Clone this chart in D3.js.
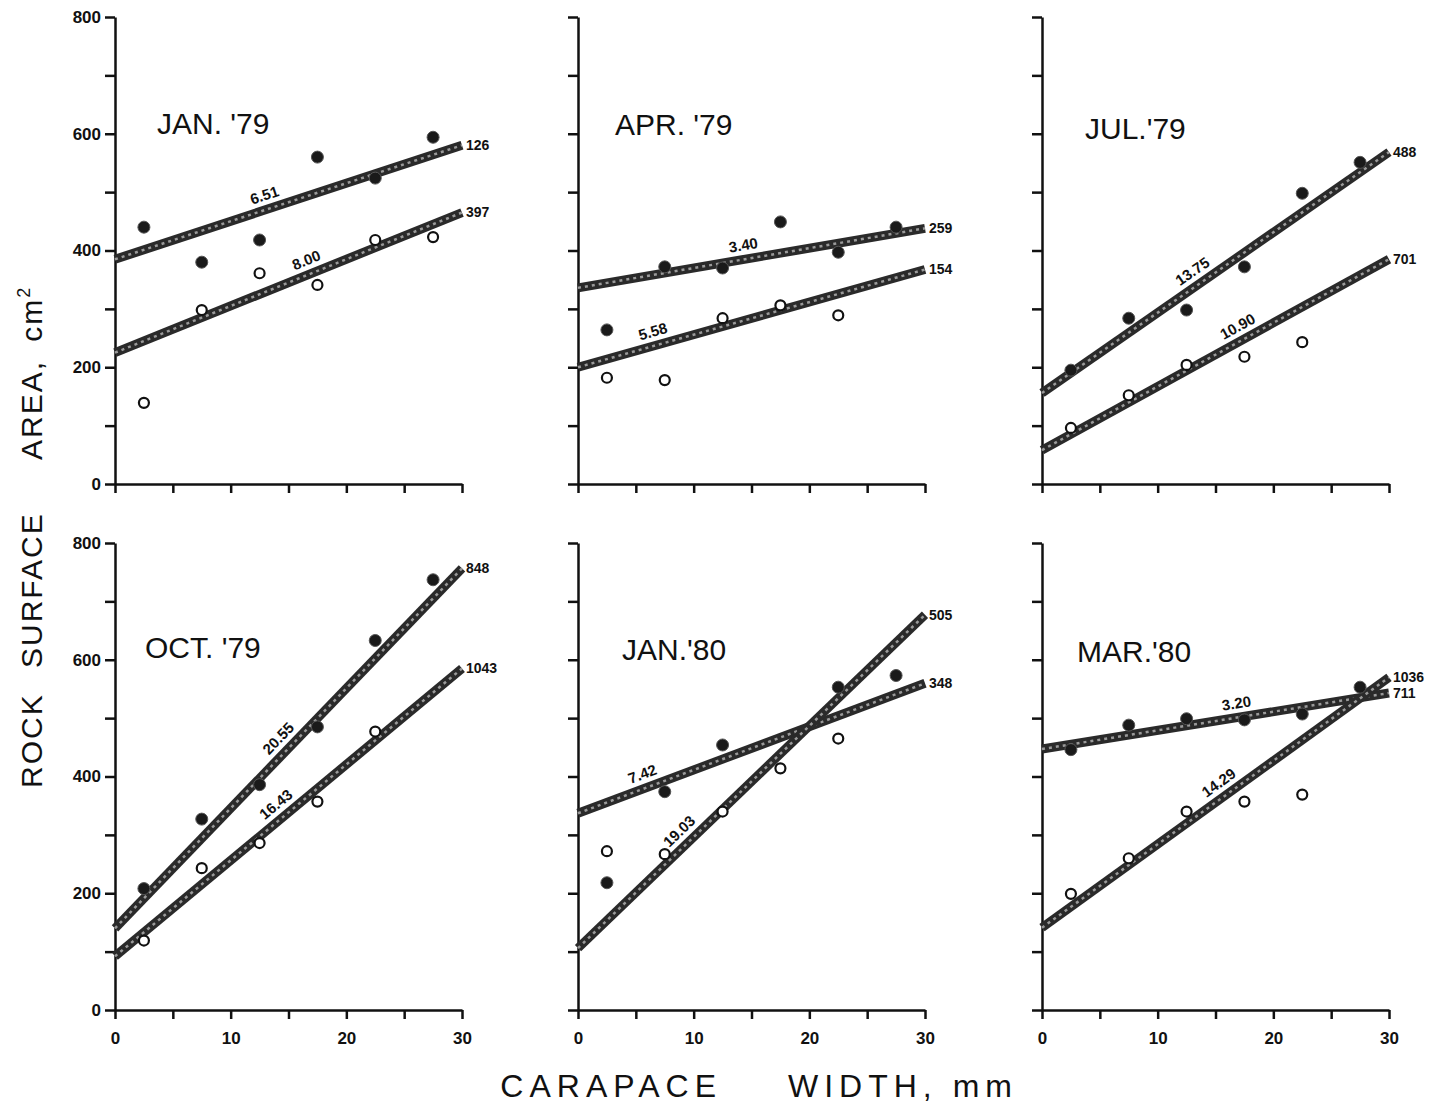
<!DOCTYPE html>
<html>
<head>
<meta charset="utf-8">
<script src="https://cdn.jsdelivr.net/npm/d3@7"></script>
<style>
body { margin: 0; background: #fff; }
text { font-family: "Liberation Sans", Arial, sans-serif; fill: #111; }
.axis path, .axis line { stroke: #111; stroke-width: 2.5; }
.axis text { font-weight: bold; }
</style>
</head>
<body>
<svg id="chart" width="1439" height="1109"></svg>
<script>
// panel titles
var months = ["JAN. '79", "APR. '79", "JUL.'79", "OCT. '79", "JAN.'80", "MAR.'80"];
// carapace width classes (mm)
var sizeClasses = [2.5, 7.5, 12.5, 17.5, 22.5, 27.5];
// rock surface area, cm2 (filled and open circles), one row per panel
var filledArea = [
    [440, 380, 418, 560, 524, 594],
    [264, 372, 370, 449, 397, 440],
    [195, 284, 298, 372, 498, 551],
    [208, 327, 386, 485, 633, 737],
    [218, 374, 454, null, 553, 573],
    [446, 488, 499, 497, 507, 553]
];
var openArea = [
    [139, 298, 361, 341, 418, 423],
    [182, 178, 284, 306, 289, null],
    [96, 152, 204, 218, 243, null],
    [119, 243, 286, 357, 477, null],
    [272, 267, 340, 414, 465, null],
    [199, 260, 340, 357, 369, null]
];
// regression lines
var filledIntercept = [385, 336, 156, 140, 337, 447];
var filledSlope = [6.51, 3.40, 13.75, 20.55, 7.42, 3.20];
var openIntercept = [225, 200, 58, 92, 106, 141];
var openSlope = [8.00, 5.58, 10.90, 16.43, 19.03, 14.29];
var filledN = [126, 259, 488, 848, 348, 711];
var openN = [397, 154, 701, 1043, 505, 1036];
var xTickValues = [0, 10, 20, 30];
var yTickValues = [0, 200, 400, 600, 800];

// layout
var colLeft = [115, 578, 1042];
var rowBottom = [484, 1010];
var panelW = 347, panelH = 467;
var titlePos = [[157, 134], [615, 135], [1085, 139], [145, 658], [622, 660], [1077, 662]];
var filledLabelX = [13.3, 14.5, 13.7, 15, 6, 17];
var openLabelX = [17, 6.8, 17.5, 14.7, 9.6, 16];

var svg = d3.select("#chart");

months.forEach(function(m, i) {
    var col = i % 3;
    var row = Math.floor(i / 3);
    var x = d3.scaleLinear().domain([0, 30]).range([colLeft[col], colLeft[col] + panelW]);
    var y = d3.scaleLinear().domain([0, 800]).range([rowBottom[row], rowBottom[row] - panelH]);
    var g = svg.append("g");

    //axes
    var yAxis = d3.axisLeft(y).tickValues(d3.range(0, 801, 100)).tickSize(10).tickSizeOuter(0).tickPadding(4)
        .tickFormat(function(d) { return (col == 0 && yTickValues.indexOf(d) >= 0) ? d : ""; });
    g.append("g").attr("class", "axis").attr("transform", "translate(" + x(0) + ",0)").call(yAxis);
    var xAxis = d3.axisBottom(x).tickValues(d3.range(0, 31, 5)).tickSize(9).tickSizeOuter(0).tickPadding(13)
        .tickFormat(function(d) { return (row == 1 && xTickValues.indexOf(d) >= 0) ? d : ""; });
    g.append("g").attr("class", "axis").attr("transform", "translate(0," + y(0) + ")").call(xAxis);
    g.selectAll(".axis .domain").attr("stroke-width", 2.5);
    g.selectAll(".axis text").attr("font-size", 17);

    //title
    g.append("text").attr("x", titlePos[i][0]).attr("y", titlePos[i][1])
        .attr("font-size", 30).text(m);

    var line = d3.line().x(function(d) { return x(d[0]); }).y(function(d) { return y(d[1]); });
    var fits = [
        [filledIntercept[i], filledSlope[i], filledN[i], filledLabelX[i]],
        [openIntercept[i], openSlope[i], openN[i], openLabelX[i]]
    ];
    fits.forEach(function(f) {
        var pts = [[0, f[0]], [30, f[0] + f[1] * 30]];
        g.append("path").attr("d", line(pts)).attr("fill", "none")
            .attr("stroke", "#2a2a2a").attr("stroke-width", 9);
        g.append("path").attr("d", line(pts)).attr("fill", "none")
            .attr("stroke", "#9a9a9a").attr("stroke-width", 2.5).attr("stroke-dasharray", "3 4");
        // n
        g.append("text").attr("x", x(30) + 4).attr("y", y(pts[1][1])).attr("dy", "0.35em")
            .attr("font-size", 14).attr("font-weight", "bold").text(f[2]);
        // slope
        var ang = Math.atan2(y(pts[1][1]) - y(pts[0][1]), x(30) - x(0)) * 180 / Math.PI;
        var lx = f[3], ly = f[0] + f[1] * lx;
        g.append("text").attr("transform", "translate(" + x(lx) + "," + y(ly) + ") rotate(" + ang + ")")
            .attr("text-anchor", "middle").attr("dy", -9)
            .attr("font-size", 15).attr("font-weight", "bold").text(f[1].toFixed(2));
    });

    var filledPts = sizeClasses.map(function(s, k) { return [s, filledArea[i][k]]; }).filter(function(d) { return d[1] != null; });
    var openPts = sizeClasses.map(function(s, k) { return [s, openArea[i][k]]; }).filter(function(d) { return d[1] != null; });

    g.selectAll("circle.filled").data(filledPts).enter().append("circle")
        .attr("class", "filled")
        .attr("cx", function(d) { return x(d[0]); })
        .attr("cy", function(d) { return y(d[1]); })
        .attr("r", 6).attr("fill", "#1a1a1a").attr("stroke", "#555").attr("stroke-width", 1);
    g.selectAll("circle.open").data(openPts).enter().append("circle")
        .attr("class", "open")
        .attr("cx", function(d) { return x(d[0]); })
        .attr("cy", function(d) { return y(d[1]); })
        .attr("r", 5).attr("fill", "#fff").attr("stroke", "#111").attr("stroke-width", 2.2);
});

// axis titles, the words are spread out like the original
function yWord(pos, txt, sup) {
    var t = svg.append("text").attr("transform", "translate(42," + pos + ") rotate(-90)")
        .attr("font-size", 30).style("letter-spacing", "2px").style("word-spacing", "8px");
    t.append("tspan").text(txt);
    if (sup) t.append("tspan").attr("font-size", 18).attr("dy", -12).text(sup);
}
yWord(788, "ROCK");
yWord(668, "SURFACE");
yWord(460, "AREA, cm", "2");

svg.append("text").attr("x", 722).attr("y", 1097).attr("text-anchor", "end")
    .attr("font-size", 32).style("letter-spacing", "6px").text("CARAPACE");
svg.append("text").attr("x", 788).attr("y", 1097)
    .attr("font-size", 32).style("letter-spacing", "6px").text("WIDTH, mm");
</script>
</body>
</html>
